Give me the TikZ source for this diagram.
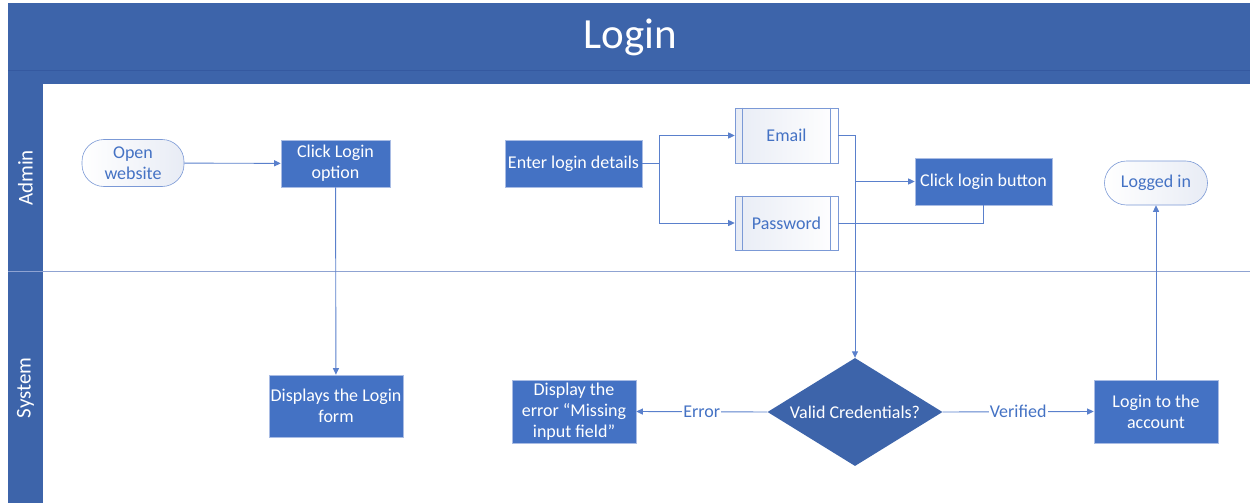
\documentclass[tikz,border=0pt]{standalone}
\usepackage{fontspec}
\setmainfont{Carlito}
\usetikzlibrary{arrows.meta,shapes.geometric}
\definecolor{band}{HTML}{3D64AA}
\definecolor{bandline}{HTML}{3559A0}
\definecolor{boxfill}{HTML}{4472C4}
\definecolor{boxedge}{HTML}{A9BCE4}
\definecolor{linec}{HTML}{5A80CC}
\definecolor{txtblue}{HTML}{4472C4}
\definecolor{pale}{HTML}{E8ECF5}
\definecolor{lanesep}{HTML}{8FA3D2}
\tikzset{
  x=1pt, y=-1pt,
  ntext/.style={font=\fontsize{18}{21}\selectfont, align=center, inner sep=0pt},
  bluebox/.style={ntext, rectangle, fill=boxfill, draw=boxedge, line width=0.6pt, text=white},
  pill/.style={ntext, rectangle, rounded corners=22pt, draw=linec!80, line width=0.6pt, left color=white, right color=pale, text=txtblue},
  proc/.style={ntext, rectangle, draw=linec!80, line width=0.6pt, left color=pale, right color=white, text=txtblue},
  decision/.style={ntext, diamond, fill=band, text=white, minimum width=175pt, minimum height=108pt, aspect=1.62},
  conn/.style={draw=linec, line width=0.9pt},
  arr/.style={conn, -{Triangle[length=6.5pt,width=6pt]}},
  elabel/.style={font=\fontsize{18}{21}\selectfont, text=txtblue, fill=white, inner sep=1pt}
}
\begin{document}
\begin{tikzpicture}
\useasboundingbox (0,0) rectangle (1250,503);
\fill[white] (0,0) rectangle (1250,503);
% title band
\fill[band] (8,3) rectangle (1250,84);
\draw[bandline, line width=0.8pt] (8,70) -- (1250,70);
\node[text=white, font=\fontsize{43}{50}\selectfont, inner sep=0pt] (title) at (630,37) {Login};
% lane label column
\fill[band] (8,84) rectangle (43,503);
\draw[lanesep, line width=0.8pt] (8,271) -- (1250,271);
\node[text=white, font=\fontsize{21}{25}\selectfont, rotate=90, inner sep=0pt] (admin) at (25.5,178) {Admin};
\node[text=white, font=\fontsize{21}{25}\selectfont, rotate=90, inner sep=0pt] (system) at (25.5,388) {System};
% nodes
\node[pill, minimum width=102pt, minimum height=47pt] (ow) at (133,163) {Open\\website};
\node[bluebox, minimum width=109pt, minimum height=47pt] (clo) at (335.5,163.5) {Click Login\\option};
\node[bluebox, minimum width=137pt, minimum height=47pt] (eld) at (573.5,163.5) {Enter login details};
\node[proc, minimum width=103pt, minimum height=55pt] (email) at (786.5,135.5) {Email};
\node[proc, minimum width=103pt, minimum height=54pt] (pwd) at (786.5,223) {Password};
\node[bluebox, minimum width=137pt, minimum height=47pt] (clb) at (983.5,181.5) {Click login button};
\node[pill, minimum width=103pt, minimum height=44pt] (li) at (1156,183) {Logged in};
\node[bluebox, minimum width=134pt, minimum height=62pt] (dlf) at (336,406) {Displays the Login\\form};
\node[bluebox, minimum width=124pt, minimum height=63pt] (de) at (574,411.5) {Display the\\error “Missing\\input field”};
\node[decision] (vc) at (855,412) {Valid Credentials?};
\node[bluebox, minimum width=124pt, minimum height=63pt] (la) at (1156,411.5) {Login to the\\account};
% inner lines of predefined process boxes
\foreach \n in {email,pwd}{
  \draw[linec!80, line width=0.6pt] ([xshift=8pt]\n.north west) -- ([xshift=8pt]\n.south west);
  \draw[linec!80, line width=0.6pt] ([xshift=-8pt]\n.north east) -- ([xshift=-8pt]\n.south east);
}
% connectors
\draw[arr] (ow) -- (clo);
\draw[arr] (clo) -- (dlf);
\coordinate (split) at ([xshift=17pt]eld.east);
\draw[conn] (eld.east) -- (split);
\draw[arr] (split) |- (email.west);
\draw[arr] (split) |- (pwd.west);
\draw[arr] (email.east) -| (vc.north);
\draw[arr] (clb.west -| vc.north) -- (clb.west);
\draw[conn] (clb.south) |- (pwd.east);
\draw[arr] (vc.west) -- node[elabel] {Error} (de.east);
\draw[arr] (vc.east) -- node[elabel] {Verified} (la.west);
\draw[arr] (la.north) -- (li.south);
\end{tikzpicture}
\end{document}
